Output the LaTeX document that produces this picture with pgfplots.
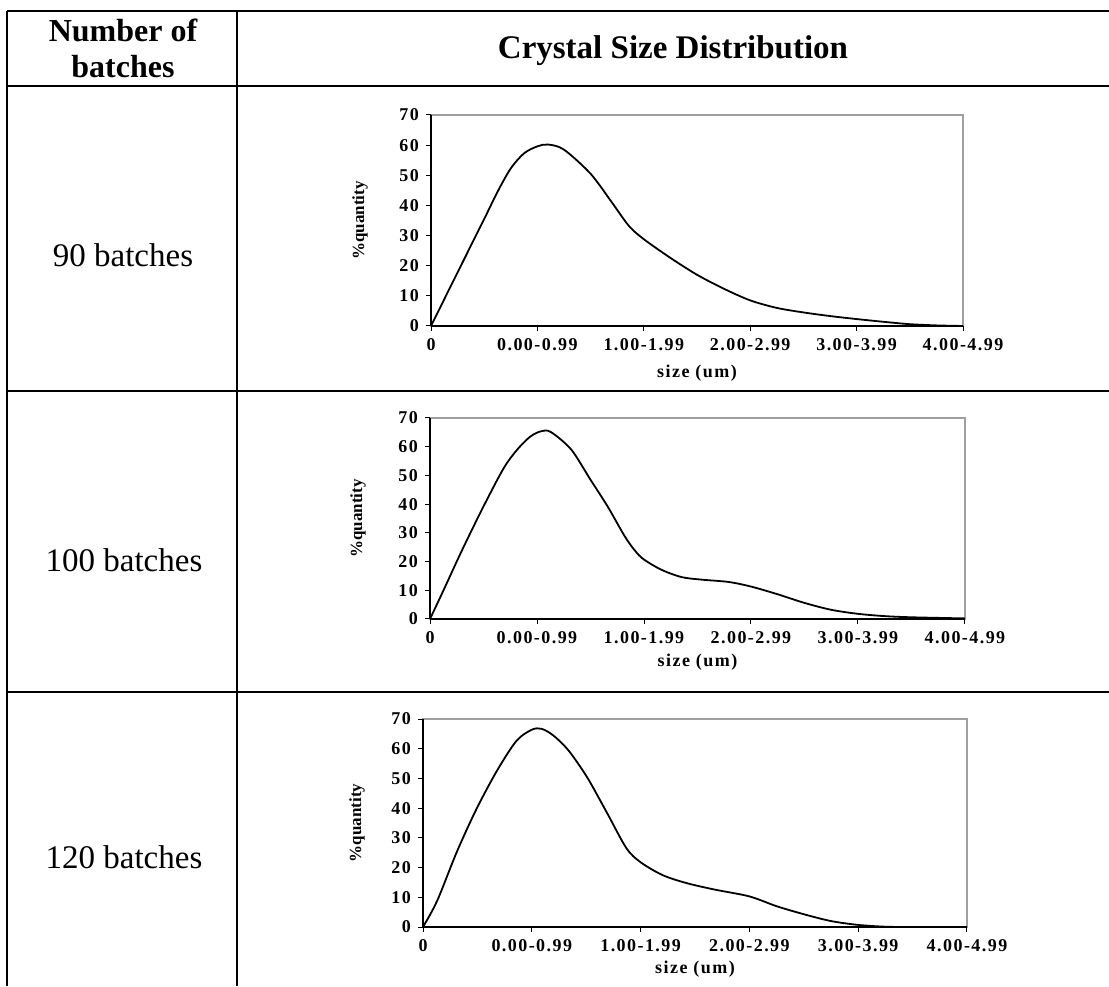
\documentclass[border=0pt]{standalone}
\usepackage{fontspec}
\setmainfont{Liberation Serif}
\newfontfamily\tickfont{Liberation Serif}[LetterSpace=8]
\usepackage{pgfplots}
\pgfplotsset{compat=1.18}

\pgfplotsset{csd/.style={
  scale only axis,
  anchor=south west,
  xmin=0, xmax=5, ymin=0, ymax=70,
  axis lines*=left,
  axis line style={black, line width=0.6pt},
  axis background/.style={draw=gray!75, line width=0.6pt},
  xtick={0,1,2,3,4,5},
  xticklabels={0,0.00-0.99,1.00-1.99,2.00-2.99,3.00-3.99,4.00-4.99},
  ytick={0,10,20,30,40,50,60,70},
  tick align=outside,
  major tick length=2.5pt,
  tick style={black, line width=0.5pt},
  ticklabel style={font=\tickfont\bfseries\fontsize{9}{10}\selectfont},
  /pgf/number format/assume math mode=true,
  xlabel={size (um)},
  ylabel={\%quantity},
  xlabel style={font=\tickfont\bfseries\fontsize{9}{10}\selectfont},
  ylabel style={font=\bfseries\fontsize{8.5}{10}\selectfont},
  curve/.style={black, line width=0.9pt, smooth, mark=none},
}}

\begin{document}
\begin{tikzpicture}
\useasboundingbox (0,0) rectangle (554.5pt,493pt);
% table rules
\draw[line width=1pt] (3.5pt,487.5pt) -- (554.5pt,487.5pt);
\draw[line width=1pt] (3.5pt,450pt) -- (554.5pt,450pt);
\draw[line width=1pt] (3.5pt,297.5pt) -- (554.5pt,297.5pt);
\draw[line width=1pt] (3.5pt,147pt) -- (554.5pt,147pt);
\draw[line width=1pt] (3.5pt,487.5pt) -- (3.5pt,0pt);
\draw[line width=1pt] (118.5pt,487.5pt) -- (118.5pt,0pt);
% header
\node[anchor=base, font=\bfseries\fontsize{16}{18}\selectfont] at (61.5pt,472pt) {Number of};
\node[anchor=base, font=\bfseries\fontsize{16}{18}\selectfont] at (61.5pt,454pt) {batches};
\node[anchor=base, font=\bfseries\fontsize{16.5}{18}\selectfont] at (336.5pt,463.5pt) {Crystal Size Distribution};
% row labels
\node[anchor=base, font=\fontsize{16.5}{18}\selectfont] at (61.5pt,359.5pt) {90 batches};
\node[anchor=base, font=\fontsize{16.5}{18}\selectfont] at (62pt,207pt) {100 batches};
\node[anchor=base, font=\fontsize{16.5}{18}\selectfont] at (62pt,59pt) {120 batches};

% chart 1: 90 batches
\begin{axis}[csd, at={(215.5pt,330pt)}, width=266pt, height=105.5pt,
  xlabel style={at={(axis description cs:0.5,0)}, anchor=center, yshift=-23.5pt},
  ylabel style={at={(axis description cs:-0.1335,0.5)}, anchor=center}]
\addplot[curve] coordinates {
(0,0) (0.25,17.8) (0.5,35.5) (0.625,44.5) (0.75,52.3) (0.875,57.3) (1.0,59.6)
(1.1,60.2) (1.25,58.5) (1.5,50.5) (1.7,41) (1.86,33.2) (2.0,28.8)
(2.25,22.6) (2.5,17.0) (2.75,12.4) (3.0,8.5) (3.25,6.0) (3.5,4.5) (3.75,3.3)
(4.0,2.3) (4.25,1.4) (4.5,0.6) (4.75,0.2) (5.0,0)};
\end{axis}

% chart 2: 100 batches
\begin{axis}[csd, at={(215pt,183.5pt)}, width=267.5pt, height=100.5pt,
  xlabel style={at={(axis description cs:0.5,0)}, anchor=center, yshift=-21.5pt},
  ylabel style={at={(axis description cs:-0.1346,0.5)}, anchor=center}]
\addplot[curve] coordinates {
(0,0) (0.12,9.5) (0.3,24) (0.5,39.2) (0.69,52.6) (0.82,59.2) (0.94,63.6)
(1.04,65.4) (1.13,65.1) (1.32,59) (1.5,48.5) (1.66,39.2) (1.82,28.8)
(1.92,23.6) (2.0,20.7) (2.16,17.2) (2.35,14.6) (2.54,13.7) (2.79,12.9) (3.0,11.3)
(3.25,8.6) (3.5,5.6) (3.75,3.2) (4.0,1.8) (4.25,1.0) (4.5,0.6) (5.0,0.2)};
\end{axis}

% chart 3: 120 batches
\begin{axis}[csd, at={(211.5pt,29.5pt)}, width=272pt, height=104pt,
  xlabel style={at={(axis description cs:0.5,0)}, anchor=center, yshift=-21pt},
  ylabel style={at={(axis description cs:-0.121,0.5)}, anchor=center}]
\addplot[curve] coordinates {
(0,0) (0.13,8.8) (0.31,25.2) (0.49,39.6) (0.68,52.6) (0.86,62.7) (1.0,66.4)
(1.09,66.7) (1.2,64.4) (1.34,59.3) (1.51,50.3) (1.69,38.5) (1.87,26.5)
(2.0,21.8) (2.2,17.5) (2.42,14.8) (2.68,12.6) (3.0,10.3) (3.25,7.0)
(3.5,4.3) (3.75,2.0) (4.0,0.7) (4.25,0.1) (4.5,0) (5.0,0)};
\end{axis}
\end{tikzpicture}
\end{document}
